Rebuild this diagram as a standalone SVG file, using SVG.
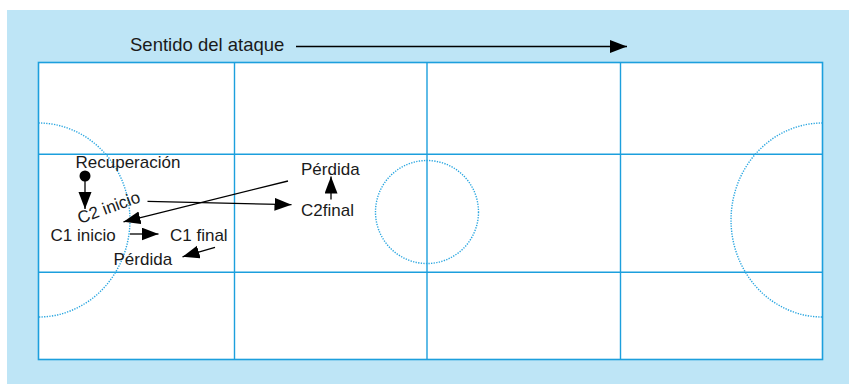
<svg xmlns="http://www.w3.org/2000/svg" width="849" height="384" viewBox="0 0 849 384">
<style>
.bg{fill:#bee5f6}
.field{fill:#ffffff;stroke:#1c9fdd;stroke-width:1.6}
.grid{stroke:#1c9fdd;stroke-width:1.4;fill:none}
.dots{stroke:#2aa6e0;stroke-width:1.4;fill:none;stroke-dasharray:1.3 1.3}
.lbl{font-family:"Liberation Sans",Arial,sans-serif;font-size:17px;fill:#1a1a1a}
.title{font-family:"Liberation Sans",Arial,sans-serif;font-size:18.5px;fill:#1a1a1a}
.conn{stroke:#000;stroke-width:1.3;fill:none;marker-end:url(#ah)}
</style>
<defs>
<marker id="ah" markerUnits="userSpaceOnUse" markerWidth="18" markerHeight="14" refX="17" refY="6.5" orient="auto">
<path d="M0,0 L17,6.5 L0,13 z" fill="#000"/>
</marker>
</defs>
<rect class="bg" x="7" y="10" width="842" height="374"/>
<g id="field">
<rect class="field" x="38.5" y="62.5" width="784" height="297"/>
<line class="grid" x1="234.5" y1="62.5" x2="234.5" y2="359.5"/>
<line class="grid" x1="427" y1="62.5" x2="427" y2="359.5"/>
<line class="grid" x1="620.5" y1="62.5" x2="620.5" y2="359.5"/>
<line class="grid" x1="38.5" y1="154.2" x2="822.5" y2="154.2"/>
<line class="grid" x1="38.5" y1="272.3" x2="822.5" y2="272.3"/>
<circle class="dots" cx="427" cy="212" r="51.5"/>
<path class="dots" d="M38.5,123 A91.5,97 0 0 1 38.5,317"/>
<path class="dots" d="M822.5,123 A91.5,97 0 0 0 822.5,317"/>
</g>
<g id="title">
<text class="title" x="130" y="50.5">Sentido del ataque</text>
</g>
<g id="recuperacion">
<text class="lbl" x="75.5" y="168">Recuperación</text>
<circle cx="85" cy="176" r="5.5" fill="#000"/>
</g>
<g id="c2inicio">
<text class="lbl" x="80" y="224" transform="rotate(-20 80 224)">C2 inicio</text>
</g>
<g id="perdida2">
<text class="lbl" x="301" y="175">Pérdida</text>
</g>
<g id="c2final">
<text class="lbl" x="301" y="216">C2final</text>
</g>
<g id="c1inicio">
<text class="lbl" x="50.5" y="240.7">C1 inicio</text>
</g>
<g id="c1final">
<text class="lbl" x="170" y="241">C1 final</text>
</g>
<g id="perdida1">
<text class="lbl" x="113.5" y="264.5">Pérdida</text>
</g>
<g id="connectors">
<line class="conn" x1="296" y1="46.5" x2="627" y2="46.5"/>
<line class="conn" x1="85" y1="176" x2="85" y2="209"/>
<line class="conn" x1="147.5" y1="201.3" x2="291.5" y2="204.7"/>
<line class="conn" x1="288" y1="181" x2="123.5" y2="221.8"/>
<line class="conn" x1="331" y1="199.5" x2="331" y2="176.5"/>
<line class="conn" x1="130" y1="234" x2="158.5" y2="234"/>
<line class="conn" x1="215" y1="247.3" x2="182.5" y2="256.8"/>
</g>
</svg>
